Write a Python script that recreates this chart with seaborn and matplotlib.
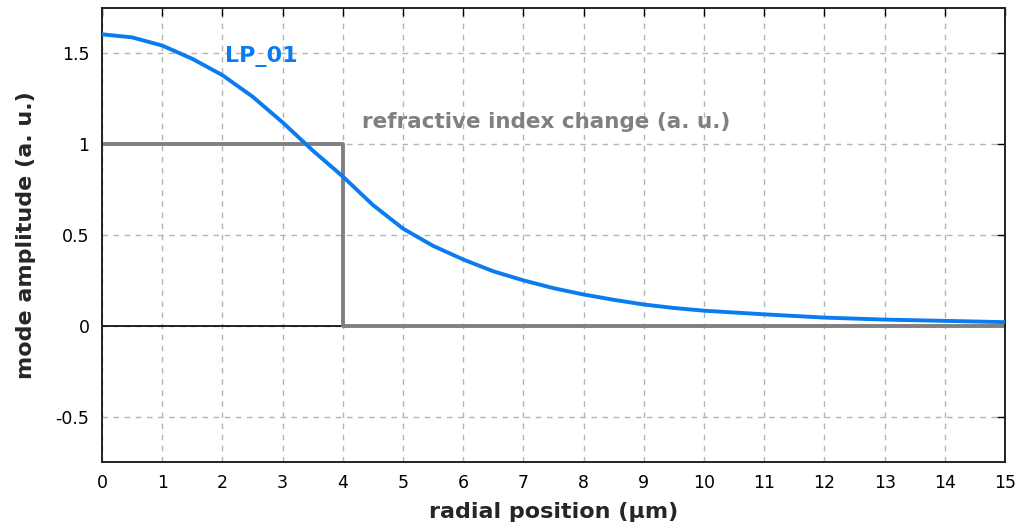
import numpy as np
import pandas as pd
import matplotlib
matplotlib.use("Agg")
import matplotlib.pyplot as plt
import seaborn as sns

# dados
raio = [0, 0.5, 1, 1.5, 2, 2.5, 3, 3.5, 4, 4.5, 5, 5.5, 6, 6.5,
        7, 7.5, 8, 8.5, 9, 9.5, 10, 11, 12, 13, 14, 15]
amplitude = [1.605, 1.588, 1.543, 1.47, 1.38, 1.262, 1.12, 0.965, 0.822, 0.665, 0.535,
             0.44, 0.365, 0.3, 0.25, 0.207, 0.172, 0.143, 0.117, 0.098, 0.083, 0.063,
             0.045, 0.034, 0.027, 0.02]
raio_indice = [0, 4, 15]
indice = [1, 0, 0]

xticks = list(range(0, 16))
yticks = [-0.5, 0, 0.5, 1, 1.5]
ytick_labels = ["-0.5", "0", "0.5", "1", "1.5"]

sns.set_style("white")
plt.rcParams['font.family'] = ['DejaVu Sans']

fig = plt.figure(figsize=(10.21, 5.31), dpi=100)
ax = fig.add_axes([0.0999, 0.130, 0.8845, 0.855])

df_modo = pd.DataFrame({"x": raio, "y": amplitude})
df_ind = pd.DataFrame({"x": raio_indice, "y": indice})

ax.axhline(0, color="black", lw=1.2, zorder=1)
sns.lineplot(data=df_ind, x="x", y="y", ax=ax, color="#808080", lw=2.8,
             drawstyle="steps-post", zorder=2)
sns.lineplot(data=df_modo, x="x", y="y", ax=ax, color="#0a7cf0", lw=2.8, zorder=3)

ax.set_xlim(0, 15)
ax.set_ylim(-0.75, 1.75)
ax.set_xticks(xticks)
ax.set_yticks(yticks)
ax.set_yticklabels(ytick_labels)
ax.grid(True, color="#b4b4b4", linestyle=(0, (4, 4)), lw=1.0)
ax.tick_params(axis="both", direction="in", length=6, width=1, top=True, right=True,
               labelsize=12.5, colors="black", pad=9)
for s in ax.spines.values():
    s.set_linewidth(1.4)
    s.set_color("#222222")

ax.text(2.05, 1.45, "LP_01", color="#0a7cf0", fontsize=16, fontweight="bold")
ax.text(4.32, 1.09, "refractive index change (a. u.)", color="#808080", fontsize=15.5,
        fontweight="bold")

ax.set_xlabel("radial position (µm)", fontsize=16, fontweight="bold", labelpad=7)
ax.set_ylabel("mode amplitude (a. u.)", fontsize=16, fontweight="bold", labelpad=14)

fig.savefig("out.png", dpi=100)
